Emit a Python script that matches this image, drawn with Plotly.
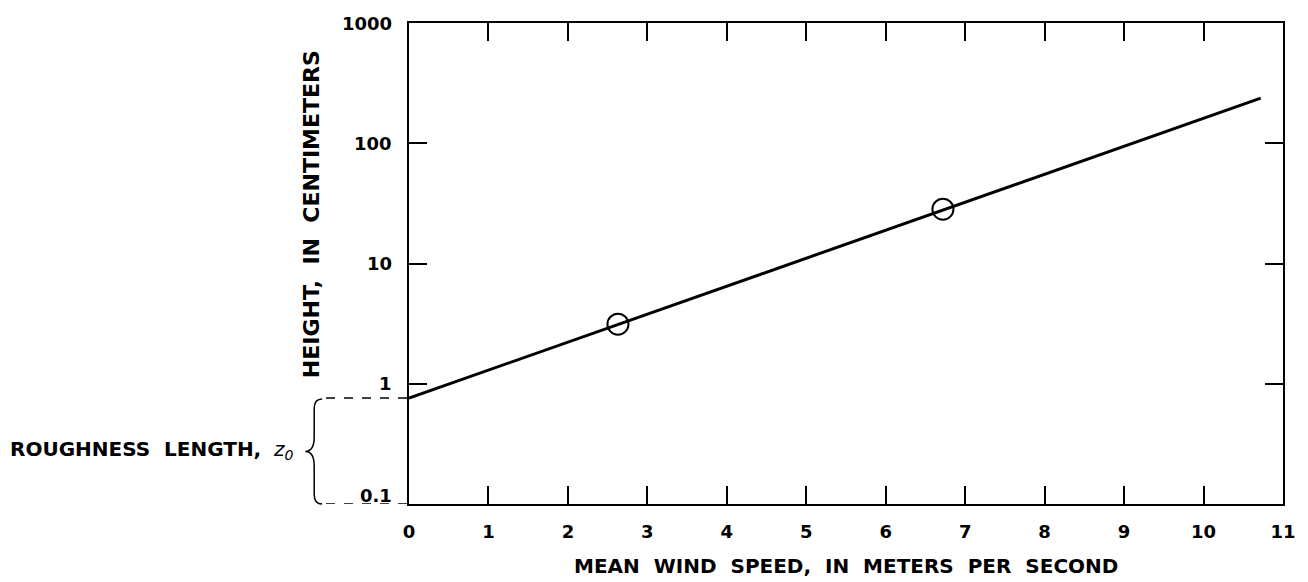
import numpy as np
import plotly.graph_objects as go

# Data
wind_speed_pts = [2.63, 6.72]      # m/s, observed points
height_pts = [3.13, 28.3]          # cm
line_speed = [0.0, 10.72]          # fitted log-wind-profile line endpoints
line_height = [0.76, 237.0]
z0 = 0.76                          # roughness length, cm

x_ticks = list(range(0, 12))
y_ticks = [0.1, 1, 10, 100, 1000]
y_tick_labels = ["0.1", "1", "10", "100", "1000"]

W, H = 1308, 582
L, R, T, B = 409, 1294, 23, 504   # plot area in pixels


def px(xp):
    return (xp - L) / (R - L)


def py(yp):
    return (B - yp) / (B - T)


FONT = "DejaVu Sans, Arial, sans-serif"
TICK_SIZE = 18

fig = go.Figure()
fig.add_trace(go.Scatter(x=line_speed, y=line_height, mode="lines",
                         line=dict(color="black", width=3), showlegend=False))
fig.add_trace(go.Scatter(x=wind_speed_pts, y=height_pts, mode="markers",
                         marker=dict(symbol="circle-open", size=21, color="black",
                                     line=dict(width=2, color="black")),
                         showlegend=False))

axis_common = dict(showgrid=False, zeroline=False, showline=True, linecolor="black",
                   linewidth=2, ticks="inside", ticklen=18, tickwidth=2, tickcolor="black",
                   mirror="allticks")

fig.update_xaxes(range=[0, 11], tickvals=x_ticks,
                 ticktext=[f"<b>{v}</b>" for v in x_ticks], ticklabelstandoff=10,
                 tickfont=dict(family=FONT, size=TICK_SIZE, color="black"),
                 **axis_common)
fig.update_yaxes(type="log", range=[-1, 3], tickvals=y_ticks, showticklabels=False,
                 **axis_common)

annotations = []
# y tick labels (0.1 sits just above the dashed baseline as in the original)
for v, lab in zip(y_ticks, y_tick_labels):
    annotations.append(dict(text=f"<b>{lab}</b>", xref="paper", yref="y",
                            x=px(394), y=np.log10(v), showarrow=False,
                            xanchor="right", yanchor="middle",
                            yshift=9 if v == 0.1 else 0,
                            font=dict(family=FONT, size=TICK_SIZE, color="black")))

shapes = []
# dashed lines marking roughness length range
for yv in [z0, 0.1]:
    shapes.append(dict(type="line", xref="paper", yref="y", x0=px(325), x1=0,
                       y0=yv, y1=yv, line=dict(color="black", width=1.5, dash="dash")))
# brace
ytop = py(399)
ybot = py(504)
ymid = (ytop + ybot) / 2
path = (f"M {px(321)},{ytop} "
        f"Q {px(313)},{ytop} {px(313)},{ytop - 0.02} "
        f"L {px(313)},{ymid + 0.03} "
        f"Q {px(313)},{ymid} {px(304)},{ymid} "
        f"Q {px(313)},{ymid} {px(313)},{ymid - 0.03} "
        f"L {px(313)},{ybot + 0.02} "
        f"Q {px(313)},{ybot} {px(321)},{ybot}")
shapes.append(dict(type="path", xref="paper", yref="paper", path=path,
                   line=dict(color="black", width=1.5)))

annotations += [
    dict(text="<b>HEIGHT,  IN  CENTIMETERS</b>", xref="paper", yref="paper",
         x=px(311), y=py(214), textangle=-90, showarrow=False,
         font=dict(family=FONT, size=22, color="black"),
         xanchor="center", yanchor="middle"),
    dict(text="<b>MEAN  WIND  SPEED,  IN  METERS  PER  SECOND</b>", xref="paper",
         yref="paper", x=0.5, y=py(566), showarrow=False,
         font=dict(family=FONT, size=20, color="black"),
         xanchor="center", yanchor="middle"),
    dict(text="<b>ROUGHNESS  LENGTH,</b>  <i>z<sub>0</sub></i>", xref="paper",
         yref="paper", x=px(294), y=py(450), showarrow=False,
         font=dict(family=FONT, size=20, color="black"),
         xanchor="right", yanchor="middle"),
]

fig.update_layout(width=W, height=H, margin=dict(l=L, r=W - R, t=T, b=H - B),
                  plot_bgcolor="white", paper_bgcolor="white",
                  shapes=shapes, annotations=annotations, showlegend=False)

fig.write_html("out.html")
